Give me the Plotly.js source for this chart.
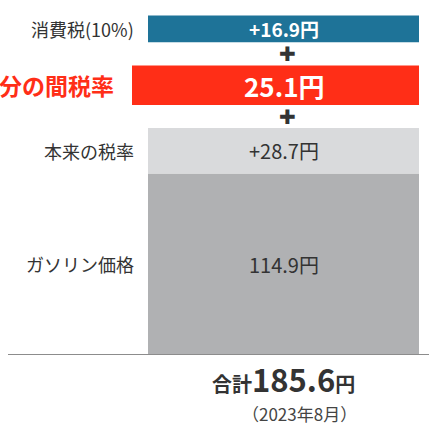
<!DOCTYPE html>
<html><head><meta charset="utf-8">
<script src="https://cdn.plot.ly/plotly-3.0.1.min.js"></script>
<style>html,body{margin:0;padding:0;background:#fff;}#chart{width:429px;height:425px;}</style>
</head><body><div id="chart"></div>
<script>
// ---- data ----
const categories = ['ガソリン価格', '本来の税率', '当分の間税率', '消費税(10%)'];
const values = [114.9, 28.7, 25.1, 16.9];
const valuePrefixes = ['', '+', '', '+'];
const unit = '円';
const totalLabel = '合計';
const dateLabel = '（2023年8月）';

// ---- styles / layout constants ----
const colors = ['#b0b1b3', '#d9dadc', '#ff2e17', '#1e7398'];
const textColors = ['#333333', '#333333', '#ffffff', '#ffffff'];
const valueFontSizes = [20, 20, 26, 19];
const valueBold = [false, false, true, true];
const H = 425, BASE_PX = 355, K = 1.58; // px per unit
const GAP = 14.6;                      // units between separated segments
const gapBefore = [false, false, true, true];
const barLeft = [148, 148, 132, 148];
const barRight = 419;

// compute bases
const bases = [];
let acc = 0;
values.forEach((v, i) => { if (gapBefore[i]) acc += GAP; bases.push(acc); acc += v; });
const total = values.reduce((a, b) => a + b, 0);
const paperFromPx = px => (BASE_PX - px) / BASE_PX;

const FONT = '"Noto Sans CJK JP", "Noto Sans", sans-serif';

const traces = values.map((v, i) => ({
  type: 'bar',
  x: [(barLeft[i] + barRight) / 2],
  y: [v],
  base: [bases[i]],
  width: [barRight - barLeft[i]],
  marker: { color: colors[i], line: { width: 0 } },
  hoverinfo: 'skip',
  showlegend: false
}));

const annotations = [];
values.forEach((v, i) => {
  const mid = bases[i] + v / 2;
  const txt = valuePrefixes[i] + v.toFixed(1) + unit;
  annotations.push({
    x: (148 + barRight) / 2, y: mid, xref: 'x', yref: 'y',
    text: valueBold[i] ? '<b>' + txt + '</b>' : txt,
    showarrow: false, xanchor: 'center', yanchor: 'middle',
    font: { family: FONT, size: valueFontSizes[i], color: textColors[i] }
  });
  const isRed = i === 2;
  annotations.push({
    x: isRed ? 116 : 136, y: mid, xref: 'x', yref: 'y',
    text: isRed ? '<b>' + categories[i] + '</b>' : categories[i],
    showarrow: false, xanchor: 'right', yanchor: 'middle',
    font: { family: FONT, size: isRed ? 23 : 18, color: isRed ? '#ff2e17' : '#333333' }
  });
  if (gapBefore[i]) {
    annotations.push({
      x: 287, y: bases[i] - GAP / 2, xref: 'x', yref: 'y',
      text: '<b>✚</b>', showarrow: false, xanchor: 'center', yanchor: 'middle',
      font: { family: 'DejaVu Sans', size: 20, color: '#333333' }
    });
  }
});
annotations.push({
  x: 283, y: paperFromPx(379), xref: 'x', yref: 'paper',
  text: '<b>' + totalLabel + '<span style="font-size:31px">' + total.toFixed(1) + '</span>' + unit + '</b>',
  showarrow: false, xanchor: 'center', yanchor: 'middle',
  font: { family: FONT, size: 20, color: '#333333' }
});
annotations.push({
  x: 299, y: paperFromPx(413), xref: 'x', yref: 'paper',
  text: dateLabel, showarrow: false, xanchor: 'center', yanchor: 'middle',
  font: { family: FONT, size: 17, color: '#444444' }
});

const layout = {
  width: 429, height: H,
  margin: { l: 0, r: 0, t: 0, b: H - BASE_PX, pad: 0 },
  paper_bgcolor: '#ffffff', plot_bgcolor: '#ffffff',
  barmode: 'overlay',
  xaxis: { range: [0, 429], visible: false, fixedrange: true },
  yaxis: { range: [0, BASE_PX / K], visible: false, fixedrange: true },
  shapes: [{
    type: 'line', xref: 'x', yref: 'y', x0: 8, x1: 429, y0: 0, y1: 0,
    line: { color: '#8c8c8c', width: 2 }, layer: 'above'
  }],
  annotations: annotations
};

Plotly.newPlot('chart', traces, layout, { displayModeBar: false, staticPlot: true });
</script>
</body></html>
